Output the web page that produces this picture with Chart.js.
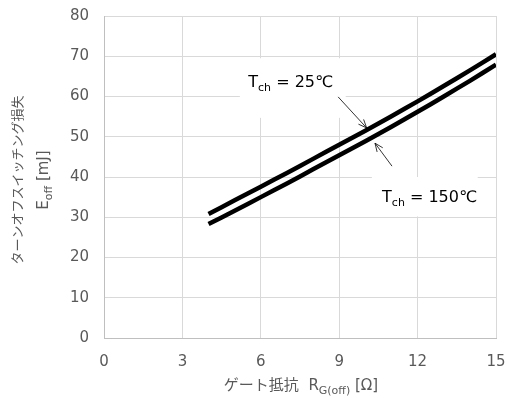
<!DOCTYPE html>
<html>
<head>
<meta charset="utf-8">
<script src="https://cdn.jsdelivr.net/npm/chart.js@4.4.0/dist/chart.umd.min.js"></script>
<style>
	body{margin:0;background:#fff;}
</style>
</head>
<body>
<canvas id="grafica_eoff" width="507" height="398"></canvas>
<script>
// Datos
const rg = [4, 5, 6, 7, 8, 9, 10, 11, 12, 13, 14, 15];
const eoff25 = [30.8, 34.2, 37.6, 41.0, 44.5, 48.0, 51.5, 55.1, 58.8, 62.6, 66.5, 70.5];
const eoff150 = [28.3, 31.6, 35.0, 38.4, 41.9, 45.4, 48.9, 52.5, 56.2, 60.0, 63.9, 67.9];
const xTicks = [0, 3, 6, 9, 12, 15];
const yTicks = [0, 10, 20, 30, 40, 50, 60, 70, 80];

const FONT = '"DejaVu Sans", "Noto Sans CJK JP", sans-serif';
const GRIS = '#595959';

// Texto con subindice
function drawRich(ctx, parts, x, y, size, align) {
	let w = 0;
	parts.forEach(p => {
		ctx.font = (p.sub ? Math.round(size * 0.7) : size) + 'px ' + FONT;
		w += ctx.measureText(p.t).width;
	});
	let cx = align === 'center' ? x - w / 2 : x;
	parts.forEach(p => {
		ctx.font = (p.sub ? Math.round(size * 0.7) : size) + 'px ' + FONT;
		ctx.fillText(p.t, cx, p.sub ? y + size * 0.25 : y);
		cx += ctx.measureText(p.t).width;
	});
	return w;
}

function arrow(ctx, x1, y1, x2, y2) {
	const a = Math.atan2(y2 - y1, x2 - x1);
	const L = 9, s = 0.4;
	ctx.beginPath();
	ctx.moveTo(x1, y1);
	ctx.lineTo(x2, y2);
	ctx.moveTo(x2 - L * Math.cos(a - s), y2 - L * Math.sin(a - s));
	ctx.lineTo(x2, y2);
	ctx.lineTo(x2 - L * Math.cos(a + s), y2 - L * Math.sin(a + s));
	ctx.stroke();
}

// Etiquetas Tch (posicion en unidades de datos)
const notas = [
	{txt: '25℃', box: [5.2, 9.25, 54.7, 69.5], tx: 5.52, ty: 62.4, from: [8.96, 59.9], to: [10.05, 52.2]},
	{txt: '150℃', box: [10.25, 14.3, 30.2, 40.0], tx: 10.64, ty: 33.8, from: [11.02, 42.7], to: [10.37, 48.4]}
];

const anotaciones = {
	id: 'anotaciones',
	beforeDatasetsDraw(chart) {
		const ctx = chart.ctx, x = chart.scales.x, y = chart.scales.y;
		ctx.save();
		ctx.fillStyle = '#fff';
		notas.forEach(n => {
			const x1 = x.getPixelForValue(n.box[0]), x2 = x.getPixelForValue(n.box[1]);
			const y1 = y.getPixelForValue(n.box[3]), y2 = y.getPixelForValue(n.box[2]);
			ctx.fillRect(x1, y1, x2 - x1, y2 - y1);
		});
		ctx.restore();
	},
	afterDraw(chart) {
		const ctx = chart.ctx, x = chart.scales.x, y = chart.scales.y;
		ctx.save();
		ctx.fillStyle = '#000';
		ctx.textBaseline = 'alphabetic';
		ctx.textAlign = 'left';
		notas.forEach(n => {
			drawRich(ctx, [{t: 'T'}, {t: 'ch', sub: true}, {t: ' = ' + n.txt}],
				x.getPixelForValue(n.tx), y.getPixelForValue(n.ty), 16, 'left');
			ctx.strokeStyle = '#000';
			ctx.lineWidth = 0.8;
			arrow(ctx, x.getPixelForValue(n.from[0]), y.getPixelForValue(n.from[1]),
				x.getPixelForValue(n.to[0]), y.getPixelForValue(n.to[1]));
		});

		// titulos de ejes
		ctx.fillStyle = GRIS;
		const area = chart.chartArea;
		drawRich(ctx, [{t: 'ゲート抵抗  R'}, {t: 'G(off)', sub: true}, {t: ' [Ω]'}],
			(area.left + area.right) / 2 + 1, 390, 15, 'center');

		ctx.save();
		ctx.translate(22, 180);
		ctx.rotate(-Math.PI / 2);
		ctx.font = '13px ' + FONT;
		ctx.textAlign = 'center';
		ctx.fillText('ターンオフスイッチング損失', 0, 0);
		ctx.textAlign = 'left';
		drawRich(ctx, [{t: 'E'}, {t: 'off', sub: true}, {t: ' [mJ]'}], 0, 26, 15, 'center');
		ctx.restore();
		ctx.restore();
	}
};

function Grafica() {
	const canvas = document.getElementById('grafica_eoff');
	const canvas2d = canvas.getContext('2d');

	new Chart(canvas2d, {
		type: 'line',
		data: {
			datasets: [
				{
					label: 'Tch = 25℃',
					data: rg.map((v, i) => ({x: v, y: eoff25[i]})),
					borderColor: '#000',
					borderWidth: 4.5,
					pointRadius: 0,
					tension: 0.3
				},
				{
					label: 'Tch = 150℃',
					data: rg.map((v, i) => ({x: v, y: eoff150[i]})),
					borderColor: '#000',
					borderWidth: 4.5,
					pointRadius: 0,
					tension: 0.3
				}
			]
		},
		options: {
			responsive: false,
			animation: false,
			layout: {padding: {top: 16, right: 11, left: 0, bottom: 0}},
			plugins: {legend: {display: false}, tooltip: {enabled: false}},
			scales: {
				x: {
					type: 'linear',
					min: 0, max: 15,
					afterBuildTicks: s => { s.ticks = xTicks.map(v => ({value: v})); },
					afterFit: s => { s.height = 60; s.paddingLeft = 0; s.paddingRight = 0; },
					grid: {color: '#d9d9d9', drawTicks: false},
					border: {color: '#bfbfbf'},
					ticks: {color: GRIS, font: {family: FONT, size: 15}, padding: 15, maxRotation: 0}
				},
				y: {
					min: 0, max: 80,
					afterBuildTicks: s => { s.ticks = yTicks.map(v => ({value: v})); },
					afterFit: s => { s.width = 104; s.paddingTop = 0; s.paddingBottom = 0; },
					grid: {color: '#d9d9d9', drawTicks: false},
					border: {color: '#bfbfbf'},
					ticks: {color: GRIS, font: {family: FONT, size: 15}, padding: 15}
				}
			}
		},
		plugins: [anotaciones]
	});
}

document.addEventListener('DOMContentLoaded', () => {
	Grafica();
});
</script>
</body>
</html>
